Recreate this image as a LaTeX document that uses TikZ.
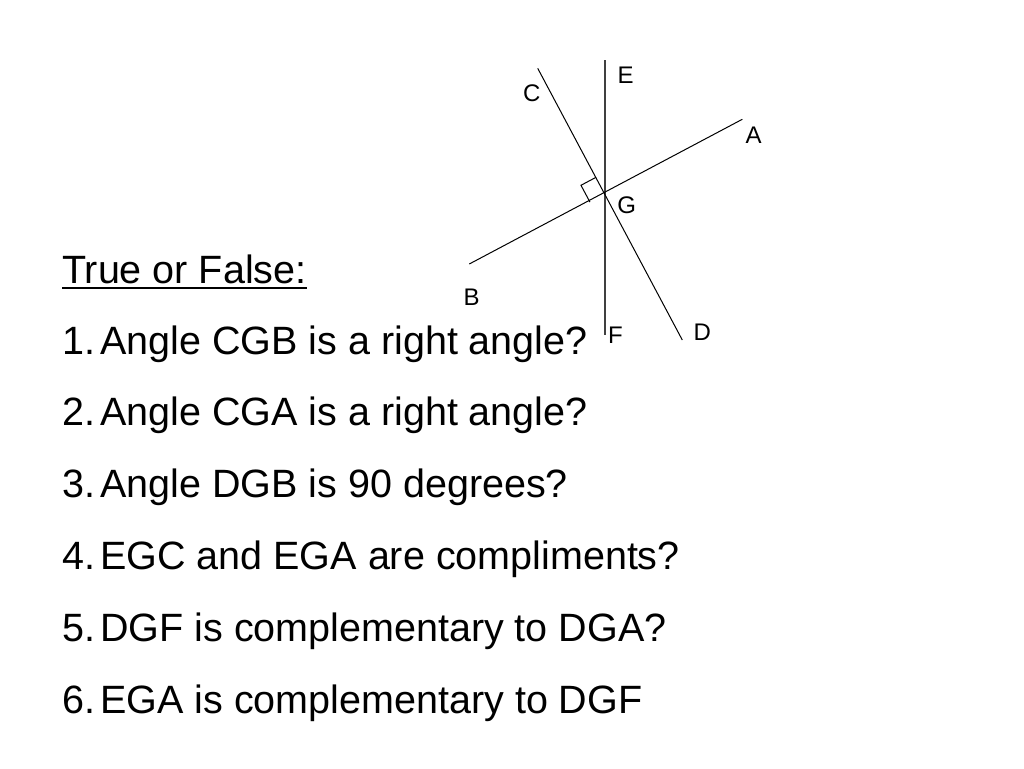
\documentclass[tikz,border=0pt]{standalone}
\usepackage{fontspec}
\setmainfont{Liberation Sans}
\usetikzlibrary{calc}
\begin{document}
\begin{tikzpicture}[x=1pt,y=-1pt,
  geoline/.style={line width=1pt,black},
  vline/.style={line width=1.3pt,black!75},
  ptlabel/.style={font=\fontsize{24}{28}\selectfont, inner sep=0pt, anchor=base},
  item/.style={font=\fontsize{39.5}{46}\selectfont, inner sep=0pt, anchor=base west}]
\fill[white] (0,0) rectangle (1024,768);
\useasboundingbox (0,0) rectangle (1024,768);
% geometry
\coordinate (G) at (604,192.3);
\coordinate (Cend) at (537.7,68.3);
\coordinate (Dend) at (682.3,340);
\coordinate (Aend) at (742.3,119.3);
\coordinate (Bend) at (469.3,264);
\coordinate (Eend) at (605,60);
\coordinate (Fend) at (605,335);
\draw[vline] (Eend) -- (Fend);
\draw[geoline] (Cend) -- (Dend);
\draw[geoline] (Bend) -- (Aend);
% right angle mark
\coordinate (m1) at ($(G)!17pt!(Cend)$);
\coordinate (m2) at ($(G)!17pt!(Bend)$);
\coordinate (rc) at ($(m1)+(m2)-(G)$);
\draw[geoline] (m1) -- (rc) -- ($(rc)!19pt!(m2)$);
% point labels
\node[ptlabel] (lblE) at (625.7,83.3) {E};
\node[ptlabel] (lblC) at (531.7,101.7) {C};
\node[ptlabel] (lblA) at (753.7,143.3) {A};
\node[ptlabel] (lblG) at (626.7,213.3) {G};
\node[ptlabel] (lblB) at (471.7,305) {B};
\node[ptlabel] (lblD) at (702.3,340) {D};
\node[ptlabel] (lblF) at (615.5,343.3) {F};
% text
\node[item] (title) at (62,283) {True or False:};
\draw[line width=2pt] ($(title.base west)+(0,4.5)$) -- ($(title.base east)+(0,4.5)$);
\node[item] (n1) at (62,354) {1.};
\node[item] (t1) at (100,354) {Angle CGB is a right angle?};
\node[item] (n2) at (62,425.8) {2.};
\node[item] (t2) at (100,425.8) {Angle CGA is a right angle?};
\node[item] (n3) at (62,497.6) {3.};
\node[item] (t3) at (100,497.6) {Angle DGB is 90 degrees?};
\node[item] (n4) at (62,569.4) {4.};
\node[item] (t4) at (100,569.4) {EGC and EGA are compliments?};
\node[item] (n5) at (62,641.2) {5.};
\node[item] (t5) at (100,641.2) {DGF is complementary to DGA?};
\node[item] (n6) at (62,713) {6.};
\node[item] (t6) at (100,713) {EGA is complementary to DGF};
\end{tikzpicture}
\end{document}
